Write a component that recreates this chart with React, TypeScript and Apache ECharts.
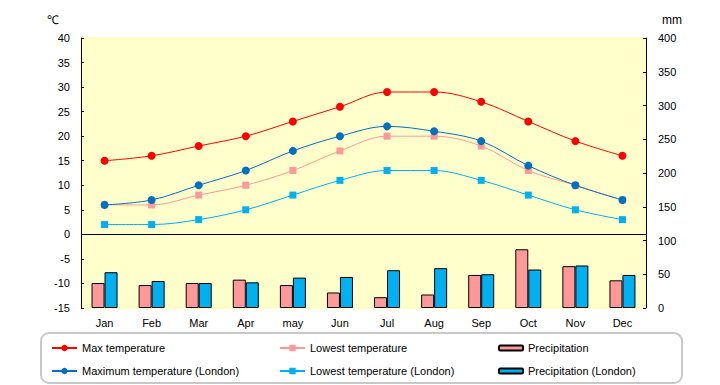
import React, { useEffect, useRef } from "react";
import * as echarts from "echarts";

const months = ["Jan", "Feb", "Mar", "Apr", "may", "Jun", "Jul", "Aug", "Sep", "Oct", "Nov", "Dec"];
const maxTemp = [15, 16, 18, 20, 23, 26, 29, 29, 27, 23, 19, 16];
const lowTemp = [6, 6, 8, 10, 13, 17, 20, 20, 18, 13, 10, 7];
const maxTempLondon = [6, 7, 10, 13, 17, 20, 22, 21, 19, 14, 10, 7];
const lowTempLondon = [2, 2, 3, 5, 8, 11, 13, 13, 11, 8, 5, 3];
const precip = [37, 34, 37, 42, 34, 23, 16, 20, 49, 87, 62, 41];
const precipLondon = [53, 40, 37, 38, 45, 46, 56, 59, 50, 57, 63, 49];

const FONT = "'Liberation Sans', Arial, sans-serif";

export default function App() {
  const ref = useRef<HTMLDivElement>(null);
  useEffect(() => {
    if (!ref.current) return;
    const chart = echarts.init(ref.current, undefined, { renderer: "svg" });
    const lineCommon = {
      type: "line" as const,
      yAxisIndex: 0,
      smooth: 0.35,
      lineStyle: { width: 1 },
      z: 3,
    };
    const legendCommon = {
      orient: "vertical" as const,
      top: 341,
      padding: 0,
      height: 40,
      itemGap: 9,
      textStyle: { color: "#000", fontSize: 11, lineHeight: 14, fontFamily: FONT },
    };
    chart.setOption({
      animation: false,
      backgroundColor: "#ffffff",
      textStyle: { fontFamily: FONT },
      grid: {
        left: 81,
        right: 74,
        top: 38,
        bottom: 77,
        show: true,
        backgroundColor: "#FFFFCC",
        borderColor: "#FFFF99",
        borderWidth: 1,
      },
      xAxis: {
        type: "category",
        data: months,
        boundaryGap: true,
        axisLine: { show: false },
        axisTick: { show: false },
        axisLabel: { color: "#000", fontSize: 11, margin: 9, fontFamily: FONT },
      },
      yAxis: [
        {
          type: "value",
          min: -15,
          max: 40,
          interval: 5,
          position: "left",
          axisLine: { show: true, lineStyle: { color: "#000", width: 1 } },
          axisTick: { show: true, inside: true, length: 3, lineStyle: { color: "#000" } },
          splitLine: { show: false },
          axisLabel: { color: "#000", fontSize: 11, margin: 11, fontFamily: FONT },
        },
        {
          type: "value",
          min: 0,
          max: 400,
          interval: 50,
          position: "right",
          axisLine: { show: true, lineStyle: { color: "#000", width: 1 } },
          axisTick: { show: true, inside: true, length: 3, lineStyle: { color: "#000" } },
          splitLine: { show: false },
          axisLabel: { color: "#000", fontSize: 11, margin: 12, fontFamily: FONT },
        },
      ],
      legend: [
        {
          ...legendCommon,
          left: 51,
          itemWidth: 25,
          itemHeight: 8,
          data: ["Max temperature", "Maximum temperature (London)"],
        },
        {
          ...legendCommon,
          left: 279,
          itemWidth: 25,
          itemHeight: 8,
          data: ["Lowest temperature", "Lowest temperature (London)"],
        },
        {
          ...legendCommon,
          left: 498,
          itemWidth: 24,
          itemHeight: 5,
          data: ["Precipitation", "Precipitation (London)"],
        },
      ],
      graphic: [
        {
          type: "rect",
          z: -1,
          shape: { x: 41, y: 333, width: 641, height: 50, r: 8 },
          style: { fill: "#ffffff", stroke: "#c8c8c8", lineWidth: 2 },
        },
        {
          type: "text",
          x: 47,
          y: 20,
          style: { text: "℃", fill: "#000", font: `12px ${FONT}`, textVerticalAlign: "middle" },
        },
        {
          type: "text",
          x: 662,
          y: 20,
          style: { text: "mm", fill: "#000", font: `12px ${FONT}`, textVerticalAlign: "middle" },
        },
      ],
      series: [
        {
          ...lineCommon,
          name: "Max temperature",
          data: maxTemp,
          symbol: "circle",
          symbolSize: 8,
          color: "#FF0000",
          itemStyle: { color: "#FF0000" },
          lineStyle: { width: 1, color: "#FF0000" },
          markLine: {
            silent: true,
            symbol: ["none", "none"],
            label: { show: false },
            lineStyle: { color: "#000", width: 1, type: "solid" },
            data: [{ yAxis: 0 }],
          },
        },
        {
          ...lineCommon,
          name: "Lowest temperature",
          data: lowTemp,
          symbol: "rect",
          symbolSize: 7,
          color: "#FF9999",
          itemStyle: { color: "#FF9999" },
          lineStyle: { width: 1, color: "#FF9999" },
        },
        {
          type: "bar",
          name: "Precipitation",
          yAxisIndex: 1,
          data: precip,
          barWidth: 13,
          barGap: "0%",
          color: "#FF9999",
          itemStyle: { color: "#FF9999", borderColor: "#000", borderWidth: 1 },
        },
        {
          ...lineCommon,
          name: "Maximum temperature (London)",
          data: maxTempLondon,
          symbol: "circle",
          symbolSize: 8,
          color: "#0070C0",
          itemStyle: { color: "#0070C0" },
          lineStyle: { width: 1, color: "#0070C0" },
        },
        {
          ...lineCommon,
          name: "Lowest temperature (London)",
          data: lowTempLondon,
          symbol: "rect",
          symbolSize: 7,
          color: "#00B0F0",
          itemStyle: { color: "#00B0F0" },
          lineStyle: { width: 1, color: "#00B0F0" },
        },
        {
          type: "bar",
          name: "Precipitation (London)",
          yAxisIndex: 1,
          data: precipLondon,
          barWidth: 13,
          barGap: "0%",
          color: "#00B0F0",
          itemStyle: { color: "#00B0F0", borderColor: "#000", borderWidth: 1 },
        },
      ],
    });
    return () => chart.dispose();
  }, []);
  return (
    <div
      ref={ref}
      style={{ position: "fixed", left: 0, top: 0, width: 720, height: 385 }}
    />
  );
}
